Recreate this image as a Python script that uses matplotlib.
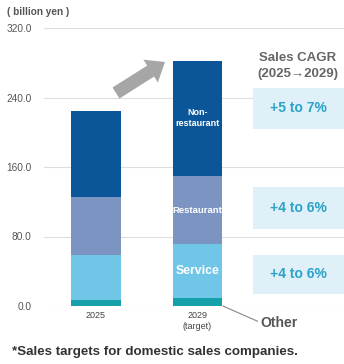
import numpy as np
import matplotlib
matplotlib.use("Agg")
import matplotlib.pyplot as plt
from matplotlib.patches import Rectangle, FancyArrow

plt.rcParams['font.family'] = ['Liberation Sans', 'DejaVu Sans']

# data (billion yen)
years = ['2025', '2029\n(target)']
other = [7, 9]
service = [52, 62]
restaurant = [66, 79]
non_restaurant = [100, 132]
cagr = ['+5 to 7%', '+4 to 6%', '+4 to 6%']
yticks = [0, 80, 160, 240, 320]

colors = ['#16a0aa', '#6fc6e6', '#7b94c2', '#0b5599']

fig = plt.figure(figsize=(3.44, 3.64), dpi=100)
ax = fig.add_axes([44/344, 1-306/364, 300/344, 278/364])

x = np.arange(len(years))
bottom = np.zeros(len(years))
for vals, c in zip([other, service, restaurant, non_restaurant], colors):
    ax.bar(x, vals, 0.49, bottom=bottom, color=c, zorder=3)
    bottom += np.array(vals)

ax.set_xlim(-0.512, 2.443)
ax.set_ylim(0, 320)
ax.set_yticks(yticks)
ax.set_yticklabels([f'{v:.1f}' for v in yticks], fontsize=7.3, color='#555555')
ax.tick_params(axis='y', length=0, pad=9)
ax.set_xticks([])
ax.grid(axis='y', color='#dddddd', lw=0.8, zorder=0)
for s in ax.spines.values():
    s.set_visible(False)

# x labels
ax.text(0, -6, years[0], ha='center', va='top', fontsize=6.5, color='#444444')
ax.text(1, -6, years[1], ha='center', va='top', fontsize=6.5, color='#444444',
        linespacing=1.2)

# segment labels on 2029 bar
seg29 = np.array([other[1], service[1], restaurant[1], non_restaurant[1]])
mids = np.cumsum(seg29) - seg29 / 2
ax.text(1, mids[1], 'Service', ha='center', va='center', color='white',
        fontsize=8.8, fontweight='bold', zorder=4)
ax.text(1, mids[2], 'Restaurant', ha='center', va='center', color='white',
        fontsize=6.8, fontweight='bold', zorder=4)
ax.text(1, mids[3], 'Non-\nrestaurant', ha='center', va='center', color='white',
        fontsize=6.5, fontweight='bold', zorder=4, linespacing=1.3)

# Other callout
ax.annotate('Other', xy=(1.25, 0), xytext=(1.62, -19), fontsize=10,
            fontweight='bold', color='#555555', va='center', ha='left',
            arrowprops=dict(arrowstyle='-', color='#888888', lw=0.8,
                            shrinkA=0, shrinkB=0, relpos=(0, 0.5)),
            annotation_clip=False)

# CAGR boxes
box_y = [(204, 251), (89, 137), (14, 59)]
for (y0, y1), t in zip(box_y, cagr):
    ax.add_patch(Rectangle((1.547, y0), 2.443 - 1.547, y1 - y0,
                           facecolor='#dff0f8', edgecolor='none', zorder=2))
    ax.text(1.99, (y0 + y1) / 2, t, ha='center', va='center', fontsize=10,
            fontweight='bold', color='#2aa3c8', zorder=4)

ax.text(1.99, 286, 'Sales CAGR', ha='center', va='center', fontsize=9.5,
        fontweight='bold', color='#666666')
ax.text(1.99, 267, '(2025\u21922029)', ha='center', va='center', fontsize=9.5,
        fontweight='bold', color='#666666')

# growth arrow (drawn in pixel coordinates)
fig.add_artist(FancyArrow(116, 364 - 93, 49, 31, width=13, head_width=27,
                          head_length=17, length_includes_head=True,
                          color='#a6a6a6', lw=0, transform=None))

fig.text(7/344, 1-12/364, '( billion yen )', fontsize=7.2, fontweight='bold',
         color='#555555', va='center')
fig.text(12/344, 1-352/364, '*Sales targets for domestic sales companies.',
         fontsize=9.6, fontweight='bold', color='#333333', va='center')

fig.savefig('out.png', dpi=100)
